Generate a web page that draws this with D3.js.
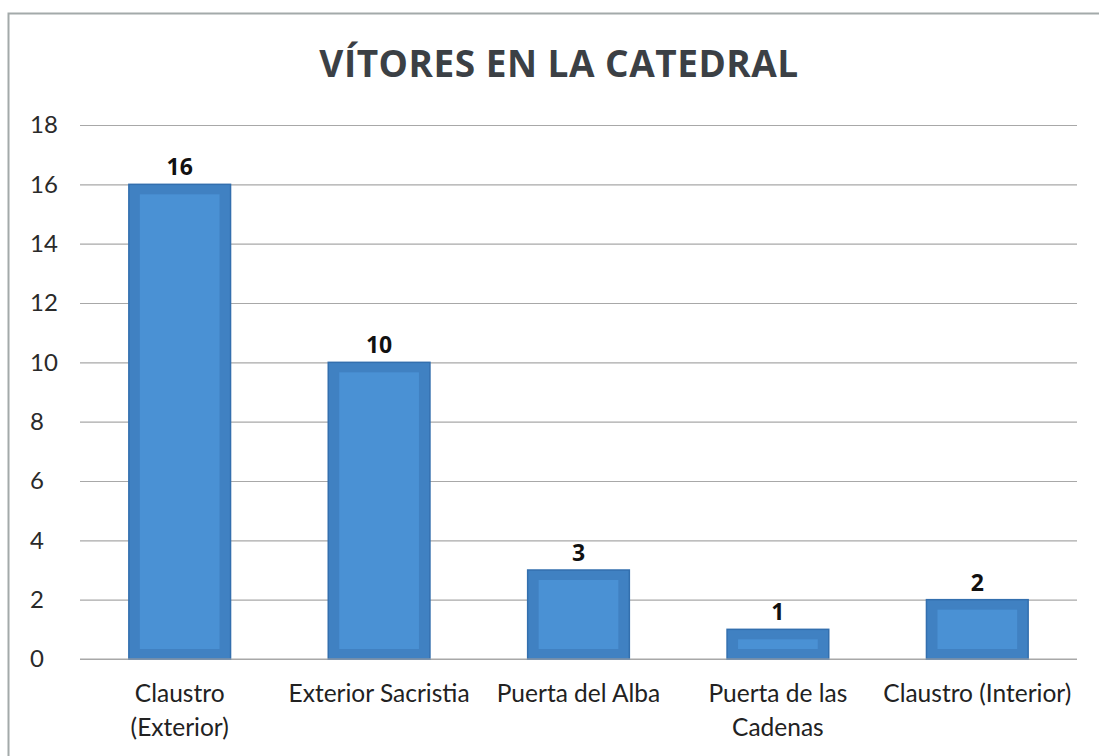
<!DOCTYPE html>
<html>
<head>
<meta charset="utf-8">
<script src="https://cdn.jsdelivr.net/npm/d3@7/dist/d3.min.js"></script>
<style>
html,body{margin:0;padding:0;background:#fff;}
svg{display:block;}
</style>
</head>
<body>
<svg id="chart" width="1099" height="756"></svg>
<script>
const categories = [["Claustro","(Exterior)"],["Exterior Sacristia"],["Puerta del Alba"],["Puerta de las","Cadenas"],["Claustro (Interior)"]];
const values = [16, 10, 3, 1, 2];
const yTicks = [0, 2, 4, 6, 8, 10, 12, 14, 16, 18];
const title = "VÍTORES EN LA CATEDRAL";

const svg = d3.select("#chart");
const W = 1099, H = 756;
const m = {left: 80, right: 22, top: 125, bottom: 97};
const font = "Lato, 'Open Sans', sans-serif";

// frame
svg.append("path").attr("d", `M8.5,${H} V13.5 H${W}`).attr("fill","none").attr("stroke","#a3aaaa").attr("stroke-width",2);

svg.append("text").attr("x", 559).attr("y", 77).attr("text-anchor","middle")
  .attr("font-family","'Open Sans', sans-serif").attr("font-weight","bold").attr("font-size",37)
  .attr("fill","#3b4045").attr("letter-spacing","0.5").text(title);

const x = d3.scaleBand().domain(d3.range(values.length)).range([m.left, W - m.right]).paddingInner(0.49).paddingOuter(0.245);
const y = d3.scaleLinear().domain([0, 18]).range([H - m.bottom, m.top]);

// grid
const yAxis = d3.axisLeft(y).tickValues(yTicks).tickSize(-(W - m.right - m.left)).tickPadding(24);
const gy = svg.append("g").attr("transform", `translate(${m.left},0)`).call(yAxis);
gy.select(".domain").remove();
gy.selectAll(".tick line").attr("stroke","#a8a8a8").attr("stroke-width",1.2);
gy.selectAll(".tick text").attr("font-family",font).attr("font-size",24).attr("fill","#2a2a2a").attr("text-anchor","start").attr("x",-50).attr("dy","0.33em");

// bars
const bars = svg.append("g").selectAll("g").data(values).join("g");
bars.append("rect")
  .attr("x", (d,i) => x(i)).attr("y", d => y(d))
  .attr("width", x.bandwidth()).attr("height", d => y(0) - y(d))
  .attr("fill", "#4081c2").attr("stroke", "#336fae").attr("stroke-width", 1.5);
bars.append("rect")
  .attr("x", (d,i) => x(i) + 11).attr("y", d => y(d) + 10)
  .attr("width", x.bandwidth() - 22).attr("height", d => Math.max(4, y(0) - y(d) - 20))
  .attr("fill", "#4a91d4");

// value labels
bars.append("text")
  .attr("x", (d,i) => x(i) + x.bandwidth()/2).attr("y", d => y(d) - 9)
  .attr("text-anchor","middle").attr("font-family","'Open Sans', sans-serif").attr("font-weight","bold")
  .attr("font-size",23).attr("fill","#111").text(d => d);

// baseline
svg.append("line").attr("x1", m.left).attr("x2", W - m.right).attr("y1", y(0)).attr("y2", y(0)).attr("stroke","#a8a8a8").attr("stroke-width",1.2);

// category labels
const cl = svg.append("g").selectAll("text").data(categories).join("text")
  .attr("x", (d,i) => x(i) + x.bandwidth()/2).attr("y", 702)
  .attr("text-anchor","middle").attr("font-family",font).attr("font-size",24.5).attr("fill","#222");
cl.selectAll("tspan").data(d => d).join("tspan")
  .attr("x", function(){ return this.parentNode.getAttribute("x"); })
  .attr("dy", (d,j) => j === 0 ? 0 : 34).text(d => d);
</script>
</body>
</html>
